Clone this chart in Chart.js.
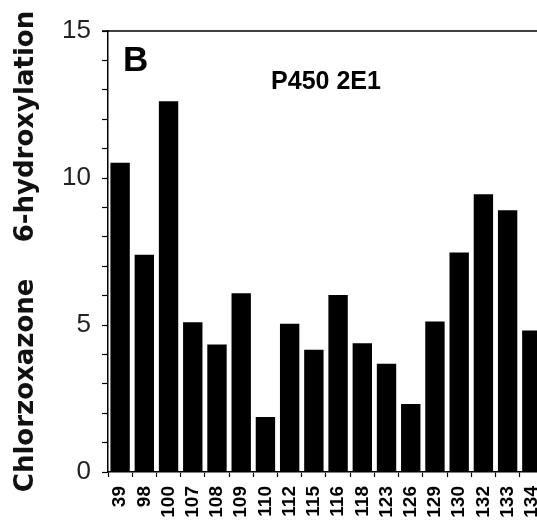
<!DOCTYPE html>
<html>
<head>
<meta charset="utf-8">
<script src="https://cdn.jsdelivr.net/npm/chart.js@4"></script>
<style>
  html, body { margin: 0; padding: 0; background: #fff; overflow: hidden; }
  #wrap { position: absolute; left: 0; top: 0; width: 564px; height: 560px; }
</style>
</head>
<body>
<div id="wrap"><canvas id="chart" width="564" height="560"></canvas></div>
<script>
// Data
const variants = ['39', '98', '100', '107', '108', '109', '110', '112', '115',
                  '116', '118', '123', '126', '129', '130', '132', '133', '134'];
const activity = [10.52, 7.39, 12.61, 5.09, 4.34, 6.08, 1.87, 5.04, 4.16,
                  6.02, 4.38, 3.68, 2.31, 5.12, 7.47, 9.45, 8.90, 4.81];
const yTicks = [0, 5, 10, 15];
const panelLetter = 'B';
const panelName = 'P450 2E1';
const yTitle = 'Chlorzoxazone    6-hydroxylation';

// Panel letter, panel name and the top frame line
const panelText = {
    id: 'panelText',
    afterDraw(chart) {
        const ctx = chart.ctx;
        const area = chart.chartArea;
        ctx.save();
        ctx.strokeStyle = '#000';
        ctx.lineWidth = 1.5;
        ctx.beginPath();
        ctx.moveTo(area.left - 6, area.top);
        ctx.lineTo(chart.width, area.top);
        ctx.stroke();

        ctx.fillStyle = '#000';
        ctx.textBaseline = 'alphabetic';
        ctx.font = 'bold 35px "Liberation Sans", Arial, sans-serif';
        ctx.textAlign = 'left';
        ctx.fillText(panelLetter, area.left + 15, area.top + 40);

        ctx.font = 'bold 25px "Liberation Sans", Arial, sans-serif';
        ctx.textAlign = 'center';
        ctx.fillText(panelName, (area.left + area.right) / 2, area.top + 58);
        ctx.restore();
    }
};

const ctx = document.getElementById('chart').getContext('2d');
const chart = new Chart(ctx, {
    type: 'bar',
    data: {
        labels: variants,
        datasets: [{
            data: activity,
            backgroundColor: '#000',
            borderWidth: 0,
            barPercentage: 0.8,
            categoryPercentage: 1.0
        }]
    },
    options: {
        responsive: false,
        animation: false,
        devicePixelRatio: 1,
        layout: { padding: { top: 31, right: 13, left: 0, bottom: 0 } },
        plugins: {
            legend: { display: false },
            tooltip: { enabled: false }
        },
        scales: {
            x: {
                offset: true,
                grid: {
                    offset: true,
                    drawOnChartArea: false,
                    tickLength: 5,
                    color: '#000',
                    tickWidth: 1.2
                },
                border: { color: '#000', width: 1.5 },
                ticks: {
                    autoSkip: false,
                    minRotation: 90,
                    maxRotation: 90,
                    padding: 9,
                    color: '#000',
                    font: { family: '"Liberation Sans", Arial, sans-serif', size: 19, weight: 'bold' }
                },
                afterFit(scale) { scale.height = 88; }
            },
            y: {
                min: 0,
                max: 15,
                grid: {
                    drawOnChartArea: false,
                    tickLength: 6,
                    color: '#000',
                    tickWidth: 1.2
                },
                border: { color: '#000', width: 1.5 },
                ticks: {
                    stepSize: 1,
                    autoSkip: false,
                    padding: 11,
                    color: '#222',
                    font: { family: '"Liberation Sans", Arial, sans-serif', size: 26 },
                    callback: v => yTicks.includes(v) ? String(v) : ''
                },
                title: {
                    display: true,
                    text: yTitle,
                    color: '#111',
                    padding: { top: 11, bottom: 0 },
                    font: { family: '"DejaVu Sans", sans-serif', size: 26, weight: 'bold' }
                },
                afterFit(scale) { scale.width = 108; }
            }
        }
    },
    plugins: [panelText]
});
</script>
</body>
</html>
